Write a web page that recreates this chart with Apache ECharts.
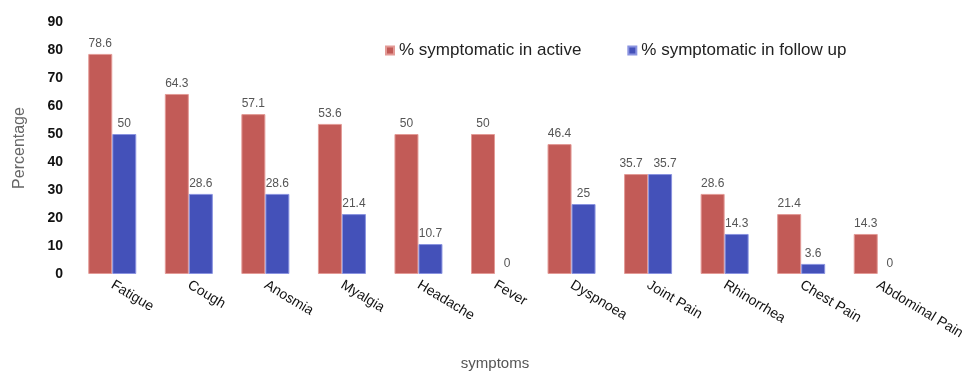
<!DOCTYPE html>
<html><head><meta charset="utf-8">
<script src="https://cdn.jsdelivr.net/npm/echarts@6/dist/echarts.min.js"></script>
<style>html,body{margin:0;padding:0;background:#fff}#c{width:972px;height:375px}</style>
</head><body><div id="c"></div>
<script>
const categories = ['Fatigue','Cough','Anosmia','Myalgia','Headache','Fever','Dyspnoea','Joint Pain','Rhinorrhea','Chest Pain','Abdominal Pain'];
const activeValues = [78.6,64.3,57.1,53.6,50,50,46.4,35.7,28.6,21.4,14.3];
const followValues = [50,28.6,28.6,21.4,10.7,0,25,35.7,14.3,3.6,0];
const yTicks = [0,10,20,30,40,50,60,70,80,90];

const chart = echarts.init(document.getElementById('c'));
const font = 'Helvetica, Arial, "Liberation Sans", sans-serif';
const lbl = {show:true, position:'top', color:'#555', fontSize:12, fontFamily:font, distance:4};
function toItems(vals, dx){
  return vals.map((v, i) => {
    const item = {value:v};
    if (v === 0) item.itemStyle = {borderWidth:0};
    if (categories[i] === 'Joint Pain') item.label = {offset:[dx, 0]};
    return item;
  });
}
chart.setOption({
  animation:false,
  textStyle:{fontFamily:font},
  legend:{
    top:37, left:380, itemGap:46, itemWidth:8, itemHeight:8, icon:'rect',
    textStyle:{fontSize:17, color:'#222', fontFamily:font},
    data:['% symptomatic in active','% symptomatic in follow up']
  },
  grid:{left:74, right:56, top:22, bottom:101, containLabel:false, outerBoundsMode:'none'},
  xAxis:{
    type:'category', data:categories,
    axisLine:{show:false}, axisTick:{show:false},
    axisLabel:{rotate:-31, interval:0, fontSize:14, color:'#111', margin:10, fontFamily:font, align:'left'},
    name:'symptoms', nameLocation:'middle', nameGap:82,
    nameTextStyle:{fontSize:15, color:'#555', fontFamily:font}
  },
  yAxis:{
    type:'value', min:yTicks[0], max:yTicks[yTicks.length-1], interval:10,
    splitLine:{show:false}, axisLine:{show:false}, axisTick:{show:false},
    axisLabel:{fontSize:14, fontWeight:'bold', color:'#111', margin:11, fontFamily:font},
    name:'Percentage', nameLocation:'middle', nameGap:46,
    nameTextStyle:{fontSize:16, color:'#666', fontFamily:font}
  },
  series:[
    {name:'% symptomatic in active', type:'bar', data:toItems(activeValues, -5), barWidth:24, barGap:'0%',
     itemStyle:{color:'#c25b57', borderColor:'#e39a96', borderWidth:1}, label:lbl},
    {name:'% symptomatic in follow up', type:'bar', data:toItems(followValues, 5), barWidth:24,
     itemStyle:{color:'#4451b9', borderColor:'#8a93e0', borderWidth:1}, label:lbl}
  ]
});
</script></body></html>
